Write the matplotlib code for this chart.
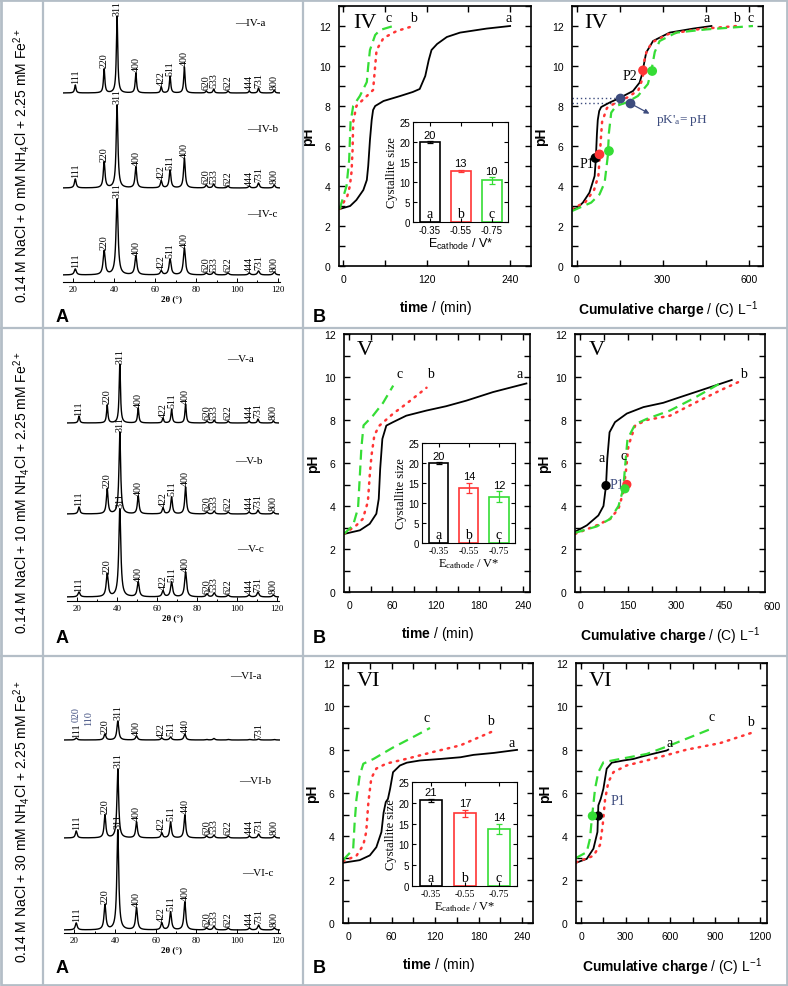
import numpy as np
import matplotlib.pyplot as plt
from matplotlib.lines import Line2D
from matplotlib.ticker import MultipleLocator

plt.rcParams['font.family'] = ['Liberation Sans', 'DejaVu Sans']
plt.rcParams['mathtext.fontset'] = 'custom'
plt.rcParams['mathtext.rm'] = 'Liberation Sans'
plt.rcParams['mathtext.bf'] = 'Liberation Sans:bold'
plt.rcParams['mathtext.default'] = 'regular'

SERIF = 'Liberation Serif'
SANS = 'Liberation Sans'
RED = '#ff3535'
GREEN = '#35dd35'
NAVY = '#3d4c7e'
FRAME = '#b4bec7'

W, H = 788, 987

# ---------------- XRD data (2theta in deg, peak heights read in px) ----------------
two_theta = [21.0, 35.1, 41.4, 50.6, 63.0, 67.3, 74.3, 85.0, 88.6, 95.6, 106.0, 110.5, 118.2]
hkl = ['111', '220', '311', '400', '422', '511', '400', '620', '533', '622', '444', '731', '800']
hkl_vi_a = ['111', '220', '311', '400', '422', '511', '440', '', '', '', '', '731', '']
hkl_vi_b = ['111', '220', '311', '400', '422', '511', '440', '620', '533', '622', '444', '731', '800']

h_iv_a = [8, 24, 77, 20, 6, 17, 26, 2, 4, 2, 2, 5, 3]
h_iv_b = [9, 26, 83, 21, 7, 18, 30, 3, 4, 2, 2, 5, 3]
h_iv_c = [6, 24, 76, 19, 4, 16, 27, 2, 3, 2, 2, 4, 3]
h_v_a = [7, 18, 59, 15, 5, 14, 19, 2, 3, 2, 2, 4, 2]
h_v_b = [7, 25, 82, 18, 6, 17, 27, 2, 3, 2, 2, 4, 2]
h_v_c = [5, 23, 88, 15, 6, 15, 25, 3, 4, 2, 2, 5, 2]
h_vi_a = [2, 6, 19, 4, 2, 3, 6, 0.5, 1.5, 0.5, 0.5, 1, 0.5]
h_vi_b = [7, 23, 69, 16, 5, 16, 23, 2, 3, 2, 2, 4, 2]
h_vi_c = [7, 25, 100, 22, 7, 18, 28, 2, 4, 2, 2, 5, 2]

# ---------------- pH vs time (min) ----------------
t_iv_a = [-5, 10, 19, 29, 34, 36, 38.5, 41, 43, 46, 58, 82, 100, 110, 118, 123, 127, 135, 149, 168, 206, 240]
ph_t_iv_a = [2.85, 3.0, 3.3, 3.8, 4.3, 5.0, 6.3, 7.3, 7.8, 8.0, 8.25, 8.5, 8.7, 8.85, 9.5, 10.3, 10.8, 11.1, 11.45, 11.67, 11.87, 12.0]
t_iv_b = [-5, 6, 9.6, 12, 13.5, 14.4, 19, 31, 43, 46, 48, 58, 77, 101]
ph_t_iv_b = [2.85, 3.5, 4.0, 4.7, 5.8, 7.2, 8.0, 8.4, 8.8, 10.0, 10.8, 11.4, 11.75, 12.0]
t_iv_c = [-5, 4.8, 8.6, 10.6, 14.4, 24, 34, 36, 38.5, 46, 53, 72]
ph_t_iv_c = [2.85, 4.0, 5.3, 7.2, 8.0, 8.5, 9.2, 10.0, 10.8, 11.55, 11.8, 12.0]

t_v_a = [-7, 15, 28.5, 37.7, 41, 43, 46, 51.5, 60.7, 79, 107, 134, 162, 199, 245]
ph_t_v_a = [2.7, 2.87, 3.17, 3.64, 4.33, 5.73, 7.12, 7.74, 7.9, 8.2, 8.44, 8.64, 8.9, 9.3, 9.7]
t_v_b = [-7, 10, 19, 26, 28.5, 31, 35, 42, 61, 79, 107]
ph_t_v_b = [2.7, 3.1, 3.4, 4.2, 5.4, 6.35, 7.3, 7.74, 8.3, 8.75, 9.5]
t_v_c = [-7, 5.5, 12.4, 14.7, 17, 20, 33, 47, 61]
ph_t_v_c = [2.7, 3.1, 3.9, 5.3, 6.7, 7.75, 8.2, 8.8, 9.6]

t_vi_a = [-7, 16, 30, 39, 46, 49, 52, 55, 58, 62, 71.5, 81, 99, 127, 155, 173, 201, 233]
ph_t_vi_a = [2.78, 2.9, 3.12, 3.5, 4.2, 5.1, 5.58, 5.73, 6.2, 6.96, 7.27, 7.4, 7.5, 7.57, 7.65, 7.76, 7.85, 7.99]
t_vi_b = [-7, 11.5, 21, 25, 28, 32, 39, 53, 81, 118, 155, 201]
ph_t_vi_b = [2.85, 3.1, 3.6, 4.2, 5.58, 6.68, 7.13, 7.36, 7.58, 7.9, 8.2, 8.87]
t_vi_c = [-7, 7, 9, 11.5, 16, 21, 35, 62, 85, 113]
ph_t_vi_c = [2.9, 3.4, 4.6, 5.7, 6.8, 7.35, 7.57, 8.1, 8.5, 9.0]

# ---------------- pH vs cumulative charge (C/L) ----------------
q_iv_a = [-17, 0, 21, 44, 62, 66, 70, 73, 78, 85, 114, 149, 196, 219, 228, 233, 242, 266, 324, 406, 470]
ph_q_iv_a = [2.85, 2.88, 3.17, 3.67, 4.5, 5.3, 6.6, 7.3, 7.75, 7.95, 8.17, 8.4, 8.75, 9.17, 9.6, 10.0, 10.67, 11.25, 11.67, 11.87, 12.0]
q_iv_b = [-17, 30, 60, 75, 80, 84, 88, 105, 140, 180, 215, 230, 236, 245, 265, 320, 430, 560]
ph_q_iv_b = [2.85, 3.2, 3.8, 4.5, 5.5, 6.4, 7.2, 7.9, 8.2, 8.45, 8.8, 9.4, 10.3, 10.8, 11.2, 11.6, 11.85, 12.0]
q_iv_c = [-17, 50, 79, 97, 108, 112, 120, 137, 172, 213, 248, 260, 272, 289, 347, 452, 615]
ph_q_iv_c = [2.75, 3.17, 3.58, 4.17, 5.5, 6.67, 7.67, 8.0, 8.17, 8.5, 9.1, 9.75, 10.7, 11.25, 11.67, 11.83, 12.0]

q_v_a = [-16, 21, 57, 73, 81, 85, 92, 109, 146, 198, 260, 312, 375, 474]
ph_q_v_a = [2.8, 3.1, 3.56, 4.0, 4.95, 6.2, 7.43, 7.9, 8.3, 8.6, 8.8, 9.06, 9.37, 9.86]
q_v_b = [-16, 52, 94, 120, 135, 144, 151, 172, 208, 281, 354, 437, 500]
ph_q_v_b = [2.7, 3.1, 3.4, 3.87, 4.65, 5.73, 6.8, 7.74, 8.0, 8.2, 8.76, 9.37, 9.8]
q_v_c = [-16, 52, 94, 120, 135, 140, 148, 172, 208, 281, 354, 437]
ph_q_v_c = [2.75, 3.05, 3.4, 4.0, 4.8, 5.73, 7.1, 7.8, 8.05, 8.44, 9.0, 9.7]

q_vi_a = [-34, 38, 83, 110, 116, 132, 150, 172, 206, 284, 351, 418, 574, 585]
ph_q_vi_a = [2.78, 2.96, 3.43, 4.2, 5.43, 5.73, 6.2, 7.12, 7.4, 7.5, 7.57, 7.7, 7.96, 8.0]
q_vi_b = [-34, 83, 127, 145, 161, 183, 217, 306, 485, 708, 932, 1155]
ph_q_vi_b = [2.8, 3.1, 3.6, 4.5, 5.7, 6.5, 6.96, 7.27, 7.58, 8.0, 8.3, 8.8]
q_vi_c = [-34, 38, 60, 72, 94, 116, 150, 261, 440, 597, 887]
ph_q_vi_c = [3.0, 3.27, 3.9, 4.8, 6.2, 6.96, 7.42, 7.57, 7.8, 8.2, 9.0]

# marked points (P1, P2, pK'a)
p1_iv_q = [65, 79, 112]
p1_iv_ph = [5.4, 5.58, 5.75]
p2_iv_q = [231, 263]
p2_iv_ph = [9.78, 9.75]
pka_iv_q = [149, 184]
pka_iv_ph = [8.4, 8.15]
p1_v_q = [81, 146, 140]
p1_v_ph = [4.95, 5.0, 4.8]
p1_vi_q = [116, 76]
p1_vi_ph = [4.94, 4.94]

# ---------------- crystallite size insets ----------------
e_cathode = ['-0.35', '-0.55', '-0.75']
size_iv = [20.0, 12.7, 10.4]
err_iv = [0.15, 0.3, 0.8]
size_v = [20.0, 13.8, 11.6]
err_v = [0.2, 1.3, 1.3]
size_vi = [20.6, 17.5, 13.7]
err_vi = [0.4, 0.8, 1.2]
lab_iv = ['20', '13', '10']
lab_v = ['20', '14', '12']
lab_vi = ['21', '17', '14']

fig = plt.figure(figsize=(W / 100, H / 100), dpi=100)


def px_rect(x0, y0, x1, y1):
    return [x0 / W, 1 - y1 / H, (x1 - x0) / W, (y1 - y0) / H]


def ftext(x, y, s, **kw):
    fig.text(x / W, 1 - y / H, s, **kw)


def fline(xs, ys, lw=1.6):
    fig.add_artist(Line2D([x / W for x in xs], [1 - y / H for y in ys],
                          color=FRAME, lw=lw, transform=fig.transFigure))


# frame
fline([1, 787, 787, 1, 1], [1, 1, 986, 986, 1], lw=2)
fline([43, 43], [1, 986])
fline([1, 787], [329, 329])
fline([1, 787], [657, 657])
fline([303, 303], [1, 986])


def xrd_panel(box, xlim, offsets, heights, widths, labels):
    x0, y0, x1, y1 = box
    ax = fig.add_axes(px_rect(x0, y0, x1, y1))
    ax.set_xlim(*xlim)
    ax.set_ylim(0, y1 - y0)
    grid = np.linspace(xlim[0], xlim[1], 3000)
    for off, hs, w, labs in zip(offsets, heights, widths, labels):
        prof = np.full_like(grid, float(off))
        for p, h in zip(two_theta, hs):
            prof += h / (1 + ((grid - p) / w) ** 2)
        ax.plot(grid, prof, color='black', lw=1.0)
        for p, h, lab in zip(two_theta, hs, labs):
            if lab:
                ax.text(p, off + h + 1.5, lab, rotation=90, ha='center', va='bottom',
                        fontsize=7.2, family=SERIF)
    for s in ['top', 'left', 'right']:
        ax.spines[s].set_visible(False)
    ax.spines['bottom'].set_linewidth(0.8)
    ax.set_yticks([])
    ax.xaxis.set_major_locator(MultipleLocator(20))
    ax.xaxis.set_minor_locator(MultipleLocator(10))
    ax.tick_params(axis='x', which='both', direction='in', length=3, width=0.7,
                   labelsize=6.5, pad=2)
    ax.tick_params(axis='x', which='minor', length=1.5)
    for t in ax.get_xticklabels():
        t.set_family(SERIF)
    ax.set_xlabel('2θ (°)', fontsize=6.5, fontweight='bold', family=SERIF, labelpad=1)
    ax.patch.set_alpha(0)
    return ax


def ph_axes(box, xlim, ymax, xmajor, xminor):
    ax = fig.add_axes(px_rect(*box))
    ax.set_xlim(*xlim)
    ax.set_ylim(0, ymax)
    ax.xaxis.set_major_locator(MultipleLocator(xmajor))
    ax.xaxis.set_minor_locator(MultipleLocator(xminor))
    ax.yaxis.set_major_locator(MultipleLocator(2))
    ax.yaxis.set_minor_locator(MultipleLocator(1))
    ax.tick_params(which='both', direction='in', top=True, right=True, width=1,
                   labelsize=7.5)
    ax.tick_params(which='major', length=4, pad=6)
    ax.tick_params(which='minor', length=4)
    for s in ax.spines.values():
        s.set_linewidth(1.2)
    ax.set_ylabel('pH', fontsize=10, fontweight='bold', labelpad=3)
    return ax


def curves(ax, a, b, c):
    ax.plot(*a, color='black', lw=1.3)
    ax.plot(*b, color=RED, lw=1.8, ls=(0, (0.6, 2.4)), dash_capstyle='round')
    ax.plot(*c, color=GREEN, lw=1.6, ls=(0, (4.5, 2.6)))


def letter(ax, x, y, s, size=10, **kw):
    ax.text(x, y, s, family=SERIF, fontsize=size, **kw)


def inset(box, sizes, errs, labels, serif_x):
    ax = fig.add_axes(px_rect(*box))
    pos = np.arange(3)
    cols = ['black', RED, GREEN]
    ax.bar(pos, sizes, width=0.64, color='white', edgecolor=cols, linewidth=1.2)
    for p, s, e, c, lab, abc in zip(pos, sizes, errs, cols, labels, 'abc'):
        ax.errorbar(p, s, yerr=e, color=c, capsize=2, lw=0.9, capthick=0.9)
        ax.text(p, s + e + 0.4, lab, ha='center', va='bottom', fontsize=8)
        ax.text(p, 0.6, abc, ha='center', va='bottom', fontsize=10, family=SERIF)
    ax.set_xlim(-0.55, 2.53)
    ax.set_ylim(0, 25)
    ax.set_xticks(pos)
    ax.set_xticklabels(e_cathode)
    ax.yaxis.set_major_locator(MultipleLocator(5))
    ax.tick_params(which='both', direction='in', top=True, right=True, labelsize=7,
                   length=3, pad=2)
    fam = SERIF if serif_x else SANS
    for t in ax.get_xticklabels():
        t.set_family(fam)
    ax.set_ylabel('Cystallite size', family=SERIF, fontsize=9, labelpad=1)
    ax.set_xlabel('E$_{cathode}$ / V*', family=fam, fontsize=9, labelpad=1)
    return ax


time_label = r'$\mathbf{time}$ / (min)'
charge_label = r'$\mathbf{Cumulative\ charge}$ / (C) L$^{-1}$'

# ================= row IV =================
xrd_panel((63, 9, 280, 283), (15, 121), [7, 94, 189], [h_iv_c, h_iv_b, h_iv_a],
          [0.6, 0.5, 0.4], [hkl, hkl, hkl])
ftext(235, 24, '—IV-a', family=SERIF, fontsize=8, va='center')
ftext(247, 130, '—IV-b', family=SERIF, fontsize=8, va='center')
ftext(247, 215, '—IV-c', family=SERIF, fontsize=8, va='center')

ax = ph_axes((339, 7, 531, 267), (-6, 270), 13, 120, 60)
curves(ax, (t_iv_a, ph_t_iv_a), (t_iv_b, ph_t_iv_b), (t_iv_c, ph_t_iv_c))
letter(ax, 14, 12.2, 'IV', size=16, va='center')
letter(ax, 238, 12.1, 'a', ha='center', va='bottom')
letter(ax, 101, 12.1, 'b', ha='center', va='bottom')
letter(ax, 65, 12.1, 'c', ha='center', va='bottom')
ax.set_xlabel(time_label, fontsize=10, labelpad=10)
inset((413, 123, 508, 223), size_iv, err_iv, lab_iv, False)

ax = ph_axes((572, 7, 763, 267), (-17, 650), 13, 300, 150)
ax.hlines(pka_iv_ph, -17, pka_iv_q, color=NAVY, lw=1, ls=(0, (1, 2)))
curves(ax, (q_iv_a, ph_q_iv_a), (q_iv_b, ph_q_iv_b), (q_iv_c, ph_q_iv_c))
ax.scatter(p1_iv_q, p1_iv_ph, s=36, c=['black', RED, GREEN], zorder=5)
ax.scatter(p2_iv_q, p2_iv_ph, s=36, c=[RED, GREEN], zorder=5)
ax.scatter(pka_iv_q, pka_iv_ph, s=36, c=NAVY, zorder=5)
ax.annotate('', xy=(262, 7.55), xytext=(pka_iv_q[1], pka_iv_ph[1]),
            arrowprops=dict(arrowstyle='-|>', color=NAVY, lw=0.9, mutation_scale=7))
letter(ax, 277, 7.3, "pK'$_a$= pH", size=9.5, color=NAVY, va='center')
letter(ax, 62, 5.1, 'P1', ha='right', va='center')
letter(ax, 210, 9.55, 'P2', ha='right', va='center')
letter(ax, 27, 12.2, 'IV', size=16, va='center')
letter(ax, 452, 12.1, 'a', ha='center', va='bottom')
letter(ax, 557, 12.1, 'b', ha='center', va='bottom')
letter(ax, 606, 12.1, 'c', ha='center', va='bottom')
ax.set_xlabel(charge_label, fontsize=10, labelpad=10)

# ================= row V =================
xrd_panel((67, 335, 279, 602), (15, 121), [4, 87, 178], [h_v_c, h_v_b, h_v_a],
          [0.6, 0.5, 0.4], [hkl, hkl, hkl])
ftext(227, 360, '—V-a', family=SERIF, fontsize=8, va='center')
ftext(235, 462, '—V-b', family=SERIF, fontsize=8, va='center')
ftext(237, 550, '—V-c', family=SERIF, fontsize=8, va='center')

ax = ph_axes((344, 335, 530, 593), (-7, 250), 12, 60, 30)
curves(ax, (t_v_a, ph_t_v_a), (t_v_b, ph_t_v_b), (t_v_c, ph_t_v_c))
letter(ax, 10, 11.3, 'V', size=16, va='center')
letter(ax, 235, 9.85, 'a', ha='center', va='bottom')
letter(ax, 113, 9.85, 'b', ha='center', va='bottom')
letter(ax, 70, 9.85, 'c', ha='center', va='bottom')
ax.set_xlabel(time_label, fontsize=10, labelpad=10)
inset((422, 444, 515, 544), size_v, err_v, lab_v, True)

ax = ph_axes((575, 335, 765, 593), (-16, 578), 12, 150, 75)
curves(ax, (q_v_a, ph_q_v_a), (q_v_b, ph_q_v_b), (q_v_c, ph_q_v_c))
ax.scatter(p1_v_q, p1_v_ph, s=32, c=['black', RED, GREEN], zorder=5)
ax.text(1.04, -0.035, '600', transform=ax.transAxes, ha='center', va='top', fontsize=7.5)
letter(ax, 92, 4.98, 'P1', color=NAVY, va='center')
letter(ax, 26, 11.3, 'V', size=16, va='center')
letter(ax, 68, 6.27, 'a', ha='center', va='center')
letter(ax, 137, 6.35, 'c', ha='center', va='center')
letter(ax, 512, 9.85, 'b', ha='center', va='bottom')
ax.set_xlabel(charge_label, fontsize=10, labelpad=10)

# ================= row VI =================
xa = xrd_panel((64, 664, 280, 934), (15, 121), [3, 95, 193], [h_vi_c, h_vi_b, h_vi_a],
               [0.55, 0.5, 0.55], [hkl, hkl_vi_b, hkl_vi_a])
xa.text(21.0, 212, '020', rotation=90, ha='center', va='bottom', fontsize=7.2,
        family=SERIF, color=NAVY)
xa.text(27.0, 208, '110', rotation=90, ha='center', va='bottom', fontsize=7.2,
        family=SERIF, color=NAVY)
ftext(230, 677, '—VI-a', family=SERIF, fontsize=8, va='center')
ftext(239, 782, '—VI-b', family=SERIF, fontsize=8, va='center')
ftext(242, 873, '—VI-c', family=SERIF, fontsize=8, va='center')

ax = ph_axes((343, 664, 533, 924), (-7, 255), 12, 60, 30)
curves(ax, (t_vi_a, ph_t_vi_a), (t_vi_b, ph_t_vi_b), (t_vi_c, ph_t_vi_c))
letter(ax, 11.5, 11.2, 'VI', size=16, va='center')
letter(ax, 226, 8.05, 'a', ha='center', va='bottom')
letter(ax, 196, 9.05, 'b', ha='center', va='bottom')
letter(ax, 108, 9.2, 'c', ha='center', va='bottom')
ax.set_xlabel(time_label, fontsize=10, labelpad=10)
inset((412, 783, 517, 887), size_vi, err_vi, lab_vi, True)

ax = ph_axes((576, 664, 767, 924), (-34, 1248), 12, 300, 150)
curves(ax, (q_vi_a, ph_q_vi_a), (q_vi_b, ph_q_vi_b), (q_vi_c, ph_q_vi_c))
ax.scatter(p1_vi_q, p1_vi_ph, s=32, c=['black', GREEN], zorder=5)
letter(ax, 195, 5.67, 'P1', color=NAVY, va='center')
letter(ax, 49, 11.2, 'VI', size=16, va='center')
letter(ax, 597, 8.05, 'a', ha='center', va='bottom')
letter(ax, 1137, 9.0, 'b', ha='center', va='bottom')
letter(ax, 876, 9.25, 'c', ha='center', va='bottom')
ax.set_xlabel(charge_label, fontsize=10, labelpad=10)

# ================= row labels and panel letters =================
row_text = ['0.14 M NaCl + 0 mM NH$_4$Cl + 2.25 mM Fe$^{2+}$',
            '0.14 M NaCl + 10 mM NH$_4$Cl + 2.25 mM Fe$^{2+}$',
            '0.14 M NaCl + 30 mM NH$_4$Cl + 2.25 mM Fe$^{2+}$']
for s, yc in zip(row_text, [165, 493, 822]):
    ftext(22, yc, s, rotation=90, ha='center', va='center', fontsize=10)
for yb in [322, 643, 973]:
    ftext(56, yb, 'A', fontsize=13, fontweight='bold', va='baseline')
    ftext(313, yb, 'B', fontsize=13, fontweight='bold', va='baseline')

fig.savefig('out.png', dpi=100)
